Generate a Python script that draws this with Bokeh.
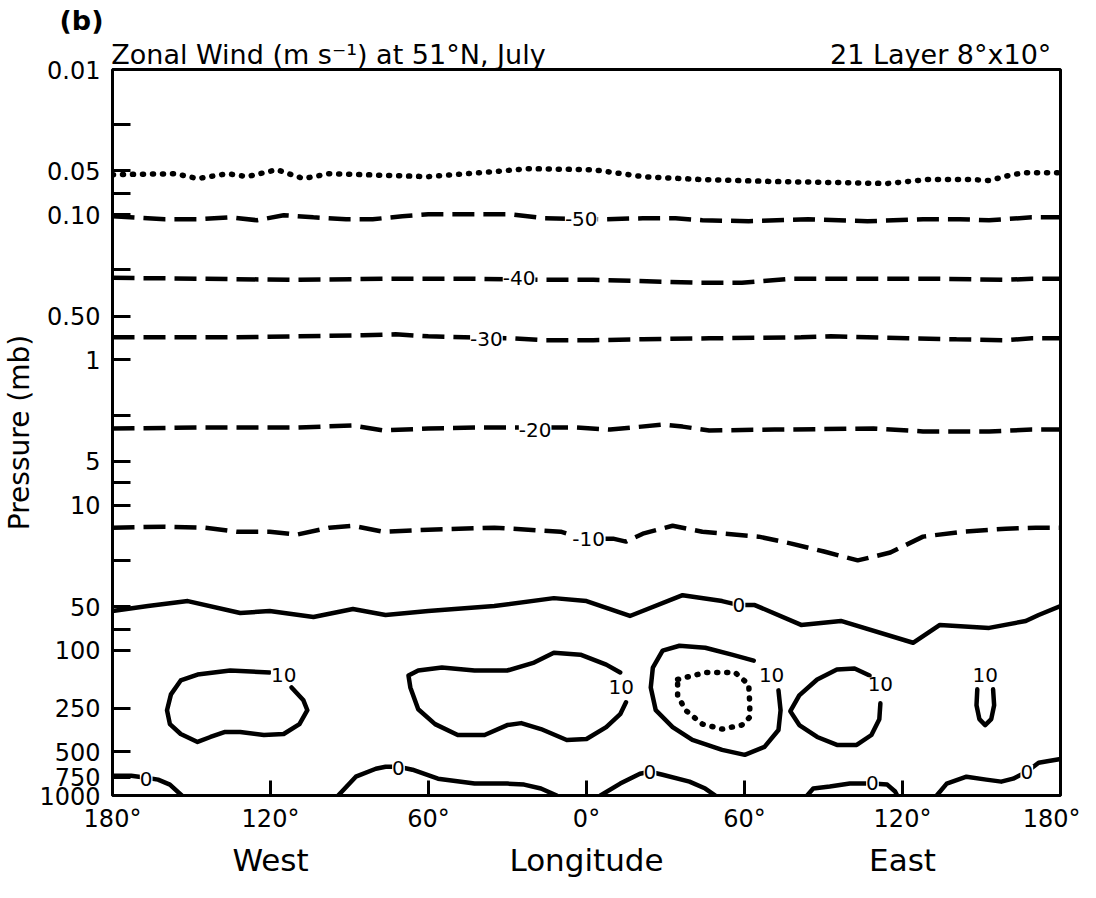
from bokeh.plotting import figure
from bokeh.models import Range1d, FixedTicker, LinearAxis, LabelSet, ColumnDataSource, Title
from bokeh.core.properties import value
from bokeh.embed import file_html
from bokeh.resources import INLINE

FONT = "DejaVu Sans"

# ---------------- axes ----------------
lon_ticks = [-180, -120, -60, 0, 60, 120, 180]
lon_tick_labels = ["180°", "120°", "60°", "0°", "60°", "120°", "180°"]
hemi_ticks = [-120, 0, 120]
hemi_labels = ["West", "Longitude", "East"]
p_ticks = [0.01, 0.05, 0.1, 0.5, 1, 5, 10, 50, 100, 250, 500, 750, 1000]
p_tick_labels = ["0.01", "0.05", "0.10", "0.50", "1", "5", "10", "50", "100", "250", "500", "750", "1000"]
p_minor_ticks = [0.024, 0.072, 0.24, 2.4, 7, 24, 72]

# header texts (placed on an upper axis at these longitudes)
head_pos = [-98.0, 134.5]
head_text = ["Zonal Wind (m s⁻¹) at 51°N, July", "21 Layer 8°x10°"]
panel_tag = "(b)"

# ---------------- contours (longitude deg, pressure mb) ----------------
c60_lon = [-180, -156.3, -147.7, -136.4, -128.9, -117.6, -107.5, -97.7, -84.9, -60.1, -35.0, -22.5, 2.6,
           21.4, 44.0, 71.4, 96.6, 114.2, 129.3, 146.6, 152.9, 161.6, 166.8, 180]
c60_p = [0.0530, 0.0522, 0.0564, 0.0522, 0.0547, 0.0490, 0.0564, 0.0522, 0.0530, 0.0547, 0.0505, 0.0482, 0.0490,
         0.0547, 0.0573, 0.0591, 0.0601, 0.0610, 0.0573, 0.0573, 0.0582, 0.0530, 0.0514, 0.0514]

c50_lon = [-180, -160.1, -147.7, -135.3, -125.1, -115.0, -103.7, -91.3, -81.2, -69.9, -60.1, -47.3, -28.6, -16.2,
           6.4, 21.4, 33.8, 44.0, 61.6, 84.2, 106.7, 127.8, 141.7, 152.9, 169.1, 180]
c50_p = [0.1025, 0.1075, 0.1075, 0.1042, 0.1092, 0.1009, 0.1042, 0.1075, 0.1075, 0.1025, 0.0994, 0.0994, 0.0994, 0.1058,
         0.1075, 0.1058, 0.1058, 0.1092, 0.1109, 0.1075, 0.1109, 0.1075, 0.1075, 0.1092, 0.1042, 0.1042]

c40_lon = [-180, -147.7, -110.1, -72.5, -43.6, -16.2, 2.6, 42.8, 59.0, 77.8, 134.2, 159.3, 169.1, 180]
c40_p = [0.272, 0.276, 0.281, 0.276, 0.276, 0.281, 0.281, 0.294, 0.294, 0.276, 0.276, 0.281, 0.276, 0.276]

c30_lon = [-180, -135.3, -110.1, -84.9, -72.5, -60.1, -28.6, -16.2, 2.6, 21.4, 46.6, 81.5, 92.8, 121.8,
           140.5, 159.3, 169.1, 180]
c30_p = [0.699, 0.699, 0.688, 0.677, 0.667, 0.688, 0.710, 0.732, 0.732, 0.721, 0.710, 0.699, 0.688, 0.710,
         0.721, 0.732, 0.710, 0.710]

c20_lon = [-180, -147.7, -110.1, -88.7, -77.4, -60.1, -39.8, -3.8, 9.0, 28.9, 36.5, 46.6, 71.4, 109.0,
           127.8, 152.9, 169.1, 180]
c20_p = [2.97, 2.92, 2.92, 2.83, 3.06, 2.97, 2.92, 2.92, 3.02, 2.79, 2.88, 3.06, 3.02, 2.97,
         3.11, 3.11, 3.02, 3.02]

c10_lon = [-180, -160.1, -145.1, -132.7, -120.3, -110.1, -97.7, -88.7, -77.4, -60.1, -35.0, -9.8, -4.9, 0.8,
           10.1, 15.0, 21.4, 32.7, 44.0, 65.4, 77.8, 90.2, 103.0, 115.4, 127.8, 142.8, 159.3, 170.6, 180]
c10_p = [14.31, 14.09, 14.31, 15.25, 15.25, 15.98, 14.31, 13.87, 15.25, 14.77, 14.31, 15.25, 16.23, 17.02,
         17.02, 17.84, 15.73, 13.87, 15.25, 16.49, 18.41, 20.88, 24.05, 21.21, 16.49, 15.25, 14.54, 14.31, 14.31]

c0_lon = [-180, -166.5, -151.4, -131.5, -120.3, -103.7, -88.7, -76.3, -60.1, -35.0, -12.4, 0.0, 16.5, 36.5,
          51.5, 57.9, 63.9, 81.5, 96.6, 124.0, 134.2, 152.9, 166.8, 171.7, 180]
c0_p = [53.64, 49.59, 45.83, 55.36, 53.64, 58.96, 51.97, 57.13, 53.64, 49.59, 43.72, 45.83, 58.04, 41.71,
        45.83, 48.81, 48.81, 66.86, 62.79, 88.74, 66.86, 70.09, 62.79, 57.13, 49.59]

# +10 cells
w1_lon = [-120.3, -135.3, -147.7, -154.1, -157.8, -159.3, -158.2, -154.1, -147.7, -142.8, -137.5, -131.5,
          -122.5, -115.0, -109.0, -106.0, -107.5, -112.0]
w1_p = [142.2, 137.8, 146.8, 161.4, 201.1, 258.6, 322.3, 377.1, 427.8, 395.4, 365.4, 365.4,
        383.1, 377.1, 322.3, 258.6, 221.0, 180.1]

w2_lon = [12.8, 7.5, -2.3, -12.4, -19.9, -30.1, -42.5, -54.9, -63.9, -67.6, -66.9, -63.9, -57.5, -48.9,
          -38.7, -30.1, -24.8, -17.3, -7.5, 0.0, 7.5, 12.8, 15.0]
w2_p = [142.2, 125.5, 107.2, 103.8, 121.5, 137.8, 137.8, 131.5, 137.8, 149.2, 180.1, 254.6, 322.3, 383.1,
        383.1, 327.3, 317.3, 348.6, 414.6, 408.1, 337.8, 275.4, 228.1]

w3_lon = [63.5, 55.2, 45.1, 35.3, 28.9, 25.2, 24.4, 26.3, 32.7, 40.2, 51.5, 60.1, 67.6, 72.9, 73.7, 72.9]
w3_p = [117.8, 107.2, 96.0, 93.0, 100.6, 131.5, 180.1, 258.6, 337.8, 414.6, 485.3, 524.8, 462.9, 354.1,
        258.6, 188.8]

w3i_lon = [34.6, 45.1, 56.4, 61.6, 62.0, 62.0, 59.0, 51.5, 44.0, 37.6, 34.6, 34.6]
w3i_p = [158.8, 142.2, 142.2, 171.8, 235.4, 288.7, 327.3, 348.6, 322.3, 258.6, 204.3, 158.8]

w4_lon = [107.5, 101.8, 95.1, 87.6, 80.8, 77.4, 80.8, 87.6, 95.1, 102.6, 108.2, 111.2, 111.6]
w4_p = [149.2, 133.6, 135.7, 158.8, 204.3, 262.7, 327.3, 395.4, 448.5, 448.5, 383.1, 297.9, 231.7]

w5_lon = [148.4, 148.1, 149.2, 151.4, 153.7, 154.8, 154.4]
w5_p = [185.8, 239.0, 297.9, 327.3, 297.9, 239.0, 185.8]

# zero contours near the surface
b1_lon = [-180, -172.9, -167.2, -162.7, -158.2, -153.7]
b1_p = [730.3, 730.3, 753.6, 777.7, 841.1, 1000]
b2_lon = [-94.3, -87.6, -80.0, -76.3, -71.4, -66.1, -56.4, -42.5, -30.1, -23.7, -17.3, -11.3]
b2_p = [1000, 741.8, 654.1, 633.8, 633.8, 664.5, 765.6, 827.9, 827.9, 841.1, 895.6, 1000]
b3_lon = [5.3, 12.8, 20.3, 24.1, 28.9, 39.1, 45.1, 48.9]
b3_p = [1000, 827.9, 707.6, 685.7, 718.9, 802.6, 895.6, 1000]
b4_lon = [83.8, 86.1, 92.4, 100.0, 108.6, 114.2, 117.2, 118.0]
b4_p = [1000, 895.6, 867.9, 827.9, 827.9, 841.1, 938.9, 1000]
b5_lon = [133.0, 136.8, 144.3, 151.8, 157.5, 162.0, 167.2, 171.7, 180]
b5_p = [1000, 827.9, 741.8, 777.7, 802.6, 765.6, 685.7, 595.2, 560.0]

# contour labels
label_lon = [-2.0, -25.6, -38.0, -19.5, 0.8, 57.9, -115.0, 13.2, 70.3, 111.6, 151.4,
             -167.2, -71.4, 24.1, 108.6, 167.2]
label_p = [0.107, 0.272, 0.721, 3.06, 17.0, 48.8, 149.0, 180.0, 147.0, 172.0, 149.0,
           766.0, 644.0, 686.0, 815.0, 686.0]
label_text = ["-50", "-40", "-30", "-20", "-10", "0", "10", "10", "10", "10", "10",
              "0", "0", "0", "0", "0"]

# ---------------- figure ----------------
p = figure(width=1080, height=880, x_range=Range1d(-180, 180), y_range=Range1d(1000, 0.01),
           y_axis_type="log", output_backend="svg", toolbar_location=None,
           min_border_left=107, min_border_right=20, min_border_top=69, min_border_bottom=79)
p.grid.visible = False
p.outline_line_color = "black"
p.outline_line_width = 3
p.outline_line_alpha = 1.0
p.background_fill_color = "white"
p.border_fill_color = "white"

xa = p.xaxis[0]
xa.ticker = FixedTicker(ticks=lon_ticks)
xa.major_label_overrides = dict(zip(lon_ticks, lon_tick_labels))
xa.major_tick_in = 15
xa.major_tick_out = 0
xa.major_tick_line_width = 3
xa.major_tick_line_color = "black"
xa.minor_tick_line_color = None
xa.axis_line_color = None
xa.major_label_text_font = FONT
xa.major_label_text_font_size = "24px"
xa.major_label_text_color = "black"
xa.major_label_standoff = 9

ya = p.yaxis[0]
ya.ticker = FixedTicker(ticks=p_ticks, minor_ticks=p_minor_ticks)
ya.major_label_overrides = dict(zip(p_ticks, p_tick_labels))
ya.major_tick_in = 18
ya.major_tick_out = 0
ya.major_tick_line_width = 3
ya.major_tick_line_color = "black"
ya.minor_tick_in = 18
ya.minor_tick_out = 0
ya.minor_tick_line_width = 3
ya.minor_tick_line_color = "black"
ya.axis_line_color = None
ya.major_label_text_font = FONT
ya.major_label_text_font_size = "24px"
ya.major_label_text_color = "black"
ya.major_label_standoff = 12
ya.axis_label = "Pressure (mb)"
ya.axis_label_text_font = FONT
ya.axis_label_text_font_size = "28px"
ya.axis_label_text_font_style = "normal"
ya.axis_label_text_color = "black"
ya.axis_label_standoff = 0

ax2 = LinearAxis(ticker=FixedTicker(ticks=hemi_ticks),
                 major_label_overrides=dict(zip(hemi_ticks, hemi_labels)),
                 axis_line_color=None, major_tick_line_color=None, minor_tick_line_color=None,
                 major_label_text_font=FONT, major_label_text_font_size="31px",
                 major_label_text_color="black", major_label_standoff=0)
p.add_layout(ax2, "below")

top_ax = LinearAxis(ticker=FixedTicker(ticks=head_pos),
                    major_label_overrides=dict(zip(head_pos, head_text)),
                    axis_line_color=None, major_tick_line_color=None, minor_tick_line_color=None,
                    major_tick_in=0, major_tick_out=0,
                    major_label_text_font=FONT, major_label_text_font_size="27px",
                    major_label_text_color="black", major_label_standoff=0)
p.add_layout(top_ax, "above")
p.add_layout(Title(text=panel_tag, align="left", offset=-53, standoff=0, text_font=FONT,
                   text_font_size="27px", text_font_style="bold", text_color="black"), "above")

solid = dict(line_color="black", line_width=4.5, line_join="round", line_cap="round")
dashed = dict(line_color="black", line_width=4.5, line_dash="22 9")
dotted = dict(line_color="black", line_width=5.5, line_dash="1 9", line_cap="round")

p.line(c60_lon, c60_p, **dotted)
for lo, pr in [(c50_lon, c50_p), (c40_lon, c40_p), (c30_lon, c30_p), (c20_lon, c20_p), (c10_lon, c10_p)]:
    p.line(lo, pr, **dashed)
for lo, pr in [(c0_lon, c0_p), (w1_lon, w1_p), (w2_lon, w2_p), (w3_lon, w3_p), (w4_lon, w4_p),
               (w5_lon, w5_p), (b1_lon, b1_p), (b2_lon, b2_p), (b3_lon, b3_p), (b4_lon, b4_p),
               (b5_lon, b5_p)]:
    p.line(lo, pr, **solid)
p.line(w3i_lon, w3i_p, **dotted)

lsrc = ColumnDataSource(dict(lon=label_lon, p=label_p, text=label_text))
p.add_layout(LabelSet(x="lon", y="p", text="text", source=lsrc, text_align="center",
                      text_baseline="middle", text_font=value(FONT), text_font_size="20px",
                      text_color="black", background_fill_color="white"))

open("out.html", "w").write(file_html(p, INLINE))
